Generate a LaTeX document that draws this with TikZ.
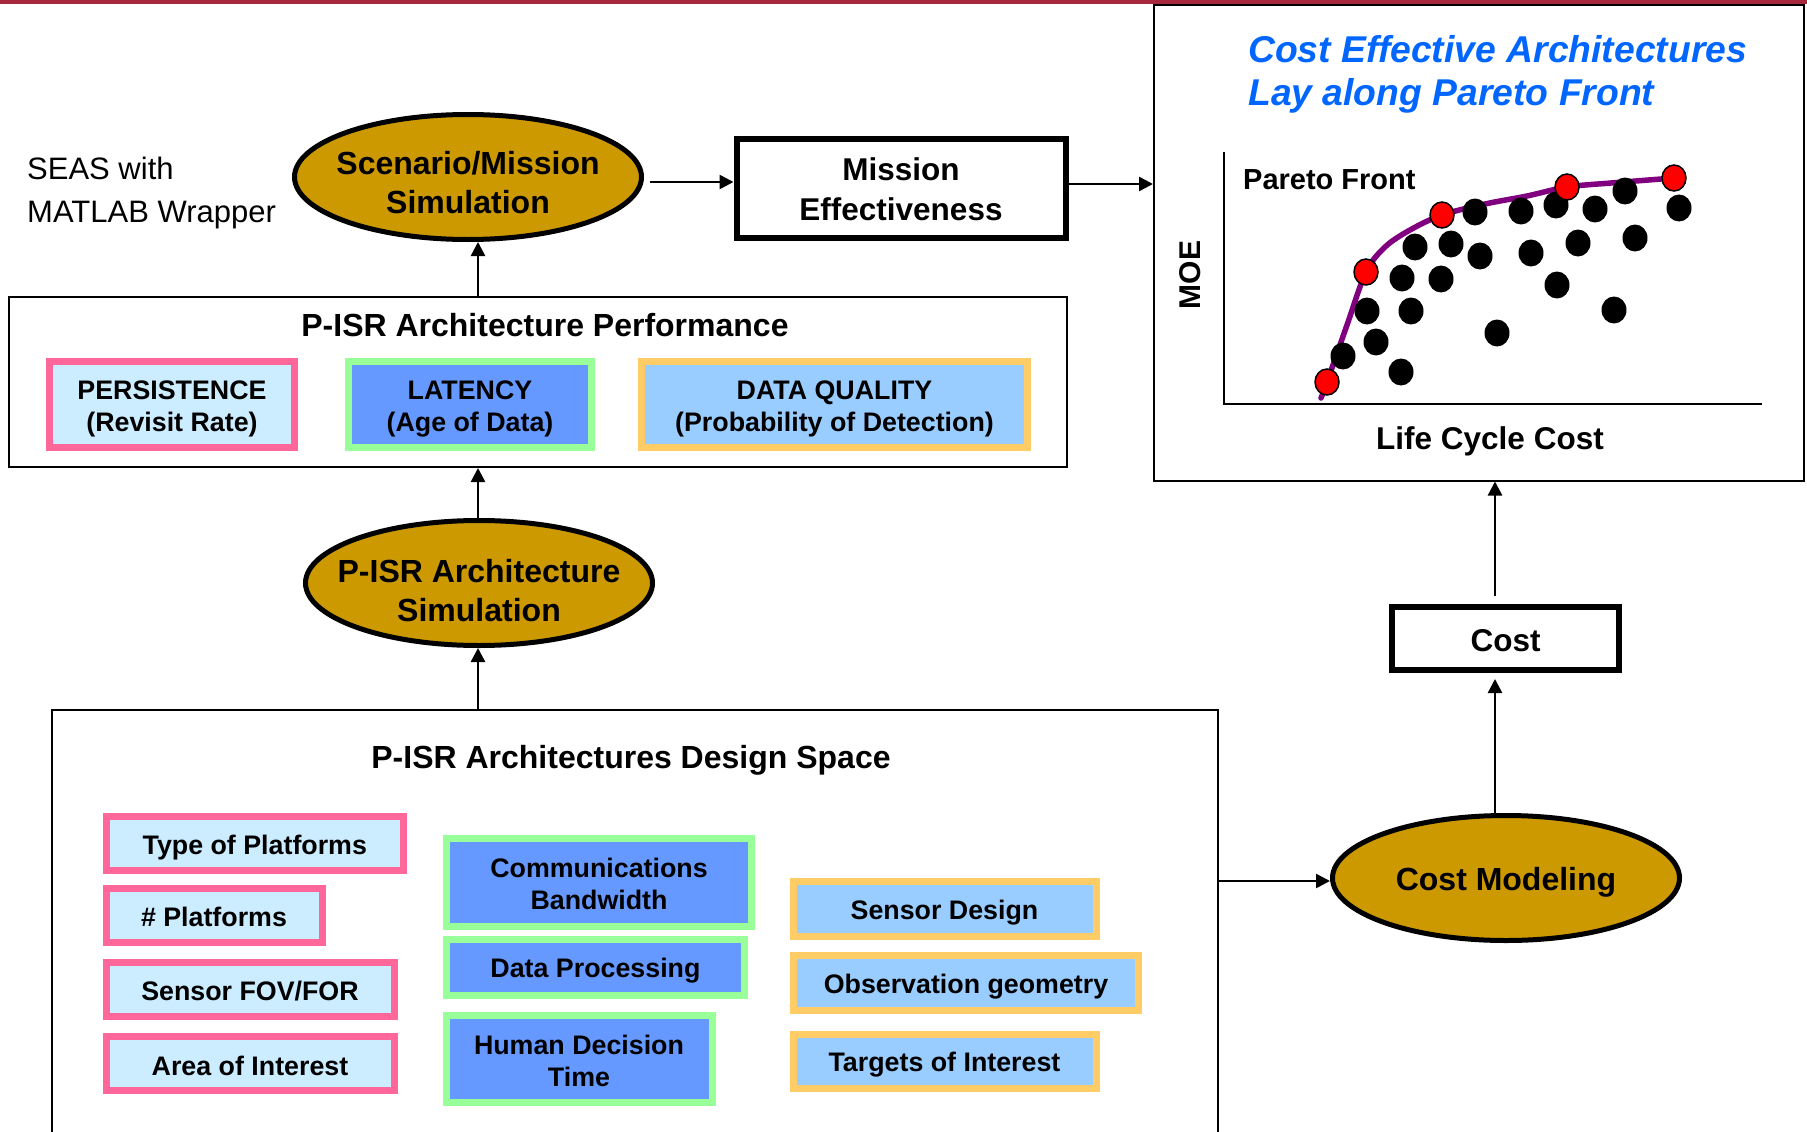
\documentclass[tikz,border=0pt]{standalone}
\usepackage{fontspec}
\setmainfont{Liberation Sans}
\usetikzlibrary{shapes.geometric,arrows.meta}
\definecolor{gold}{HTML}{CC9900}
\definecolor{pinkb}{HTML}{FF6699}
\definecolor{pinkf}{HTML}{CCECFF}
\definecolor{greenb}{HTML}{99FF99}
\definecolor{bluef}{HTML}{6699FF}
\definecolor{orangeb}{HTML}{FFCC66}
\definecolor{lbluef}{HTML}{99CCFF}
\definecolor{titleblue}{HTML}{0066FF}
\definecolor{purpcurve}{HTML}{800080}
\definecolor{redbar}{HTML}{A6283C}
% text lowered inside its shape: #1 = extra height added on top
\newcommand\dnt[2]{\raisebox{0pt}[\dimexpr\height+#1\relax][\depth]{\vbox{\halign{\hfil##\hfil\cr#2\crcr}}}}
\begin{document}
\begin{tikzpicture}[x=1pt,y=-1pt,
  arr/.style={line width=2.5pt,-{Triangle[length=14pt,width=14pt]}},
  ell/.style={ellipse,draw,line width=5pt,fill=gold,
    font=\bfseries\fontsize{32}{39}\selectfont,inner xsep=-20pt,inner ysep=0pt},
  thickbox/.style={rectangle,draw,line width=6pt,fill=white,
    font=\bfseries\fontsize{31.5}{40}\selectfont,inner sep=0pt},
  thinbox/.style={rectangle,draw,line width=2pt,inner sep=0pt},
  cbox/.style={rectangle,line width=7pt,inner sep=0pt,
    font=\bfseries\fontsize{26.8}{32}\selectfont},
  pbox/.style={cbox,draw=pinkb,fill=pinkf},
  gbox/.style={cbox,draw=greenb,fill=bluef},
  obox/.style={cbox,draw=orangeb,fill=lbluef},
  bigtxt/.style={font=\bfseries\fontsize{32}{39}\selectfont,inner sep=0pt},
  blackdot/.style={fill=black},
  reddot/.style={fill=red,draw=black,line width=1.5pt}
]
\useasboundingbox (0,0) rectangle (1807,1132);
\clip (0,0) rectangle (1807,1132);
\fill[redbar] (0,0) rectangle (1807,4.5);

% ---------- right panel ----------
\node[thinbox,minimum width=650pt,minimum height=475pt] (panel) at (1479,243) {};
\node[anchor=west,align=left,text=titleblue,inner sep=0pt,
  font=\bfseries\itshape\fontsize{37.3}{43}\selectfont] (ttl) at (1248,74)
  {Cost Effective Architectures\\Lay along Pareto Front};
\draw[line width=2pt] (1224,152) -- (1224,404) -- (1762,404);
\draw[purpcurve,line width=5.5pt,line cap=round] plot[smooth,tension=0.55] coordinates
  {(1321,398) (1327,382) (1347,325) (1366,272) (1385,247) (1410,230) (1442,215)
   (1485,204) (1527,196) (1567,187) (1611,183) (1674,178)};
\foreach \p in {(1343,356),(1376,342),(1401,372),(1367,311),(1411,311),(1402,278),
  (1441,279),(1415,247),(1451,244),(1480,256),(1475,212),(1521,211),(1556,205),
  (1595,209),(1625,191),(1679,208),(1531,253),(1578,243),(1635,238),(1557,285),
  (1614,310),(1497,333)}
  \fill[blackdot] \p ellipse (12.5pt and 13.5pt);
\foreach \p in {(1327,382),(1366,272),(1442,215),(1567,187),(1674,178)}
  \filldraw[reddot] \p ellipse (12pt and 13pt);
\node[anchor=west,inner sep=0pt,font=\bfseries\fontsize{29}{34}\selectfont] (pf) at (1243,180) {Pareto Front};
\node[rotate=90,inner sep=0pt,font=\bfseries\fontsize{30}{34}\selectfont] (moe) at (1190,275) {MOE};
\node[inner sep=0pt,font=\bfseries\fontsize{31.5}{36}\selectfont] (lcc) at (1490,441) {Life Cycle Cost};

% ---------- top left ----------
\node[anchor=west,align=left,inner sep=0pt,font=\fontsize{31}{43}\selectfont] (seas) at (27,193)
  {SEAS with\\MATLAB Wrapper};
\node[ell,minimum width=347pt,minimum height=125pt] (scen) at (468,177) {\dnt{11.6pt}{Scenario/Mission\cr Simulation}};
\node[thickbox,minimum width=329pt,minimum height=99pt] (mission) at (901,188) {\dnt{2.4pt}{Mission\cr Effectiveness}};

\coordinate (axA) at (478,0);
\coordinate (axB) at (1495,0);

\draw[arr] ([shift={(6pt,-5pt)}]scen.east) -- ([yshift=-5pt]scen.east -| mission.west);
\draw[arr] ([yshift=4pt]mission.east) -- ([yshift=4pt]mission.east -| panel.west);

% ---------- performance ----------
\node[thinbox,minimum width=1058pt,minimum height=170pt] (perf) at (538,382) {};
\node[bigtxt] (perft) at (545,325) {P-ISR Architecture Performance};
\node[pbox,minimum width=245pt,minimum height=86pt] (pers) at (172,404.5) {\dnt{8pt}{PERSISTENCE\cr(Revisit Rate)}};
\node[gbox,minimum width=243pt,minimum height=86pt] (lat) at (470,404.5) {\dnt{8pt}{LATENCY\cr(Age of Data)}};
\node[obox,minimum width=386pt,minimum height=86pt] (dq) at (834.5,404.5) {\dnt{8pt}{DATA QUALITY\cr(Probability of Detection)}};
\draw[arr] (perf.north -| axA) -- (scen.south -| axA);

% ---------- architecture simulation ----------
\node[ell,minimum width=347pt,minimum height=125pt] (sim) at (479,583) {\dnt{15pt}{P-ISR Architecture\cr Simulation}};
\draw[arr] (sim.north -| axA) -- (perf.south -| axA);

% ---------- design space ----------
\node[thinbox,minimum width=1166pt,minimum height=460pt] (design) at (635,940) {};
\node[bigtxt] (designt) at (631,760.5) {P-ISR Architectures Design Space};
\draw[arr] (design.north -| axA) -- (sim.south -| axA);

\node[pbox,minimum width=297pt,minimum height=54pt] (top) at (254.8,843.5) {\dnt{8pt}{Type of Platforms}};
\node[pbox,minimum width=216pt,minimum height=54pt] (nplat) at (214,915) {\dnt{4pt}{\# Platforms}};
\node[pbox,minimum width=288pt,minimum height=54pt] (fov) at (250,989) {\dnt{5pt}{Sensor FOV/FOR}};
\node[pbox,minimum width=288pt,minimum height=54pt] (aoi) at (250,1063) {\dnt{5pt}{Area of Interest}};
\node[gbox,minimum width=305pt,minimum height=88pt] (comm) at (599,882.6) {\dnt{3pt}{Communications\cr Bandwidth}};
\node[gbox,minimum width=298pt,minimum height=56pt] (dp) at (595.5,967.5) {\dnt{7pt}{Data Processing}};
\node[gbox,minimum width=266pt,minimum height=87pt] (hdt) at (579,1059) {\dnt{3pt}{Human Decision\cr Time}};
\node[obox,minimum width=303pt,minimum height=55pt] (sd) at (944.5,909) {\dnt{8pt}{Sensor Design}};
\node[obox,minimum width=345pt,minimum height=55pt] (og) at (966,983) {\dnt{7pt}{Observation geometry}};
\node[obox,minimum width=303pt,minimum height=54pt] (toi) at (944.5,1061.5) {\dnt{7pt}{Targets of Interest}};

% ---------- cost ----------
\node[ell,minimum width=347pt,minimum height=125pt] (costm) at (1506,878) {\dnt{9pt}{Cost Modeling}};
\node[thickbox,minimum width=227pt,minimum height=63pt] (cost) at (1505.5,638.5) {\dnt{4.6pt}{Cost}};
\draw[arr] ([yshift=-3pt]costm.west -| design.east) -- ([yshift=-3pt]costm.west);
\draw[arr] (costm.north -| axB) -- ([yshift=-6pt]cost.south -| axB);
\draw[arr] ([yshift=8pt]cost.north -| axB) -- (panel.south -| axB);
\end{tikzpicture}
\end{document}
